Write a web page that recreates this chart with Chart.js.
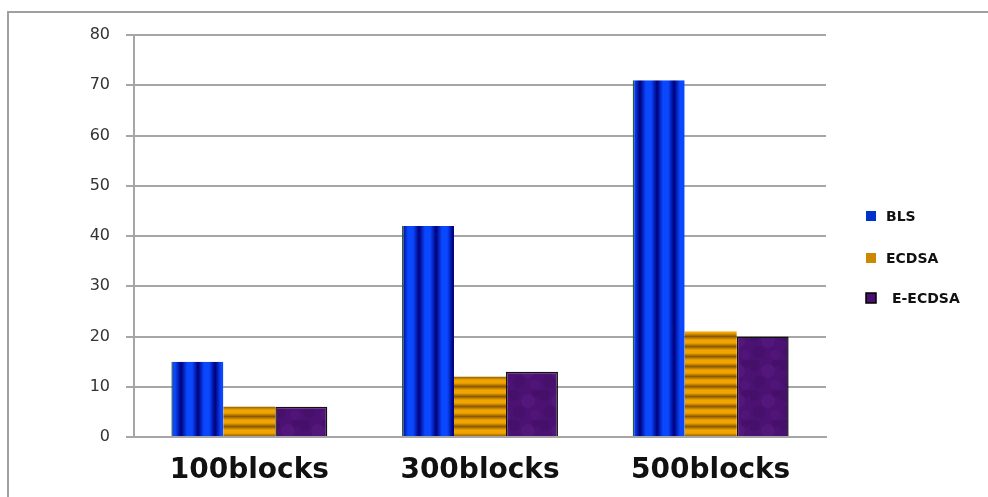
<!DOCTYPE html>
<html>
<head>
<meta charset="utf-8">
<script src="https://cdn.jsdelivr.net/npm/chart.js@4"></script>
<style>
    html, body { margin: 0; padding: 0; background: #fff; overflow: hidden; }
    canvas { position: absolute; left: 0; top: 0; }
</style>
</head>
<body>
<canvas id="grafico" width="988" height="497"></canvas>
<script>
// Datos del gráfico
const categorias = ['100blocks', '300blocks', '500blocks'];
const series = ['BLS', 'ECDSA', 'E-ECDSA'];
const valoresBLS = [15, 42, 71];
const valoresECDSA = [6, 12, 21];
const valoresEECDSA = [6, 13, 20];
const ticksY = [0, 10, 20, 30, 40, 50, 60, 70, 80];

// Patrones de relleno (rayas verticales, rayas horizontales, textura)
function patronRayas(periodo, vertical, claro, oscuro) {
    const c = document.createElement('canvas');
    c.width = vertical ? periodo : 1;
    c.height = vertical ? 1 : periodo;
    const g = c.getContext('2d');
    const grad = vertical ? g.createLinearGradient(0, 0, periodo, 0) : g.createLinearGradient(0, 0, 0, periodo);
    grad.addColorStop(0, claro);
    grad.addColorStop(0.3, claro);
    grad.addColorStop(0.65, oscuro);
    grad.addColorStop(1, claro);
    g.fillStyle = grad;
    g.fillRect(0, 0, c.width, c.height);
    return g.createPattern(c, 'repeat');
}

function patronTextura() {
    const c = document.createElement('canvas');
    c.width = 30; c.height = 30;
    const g = c.getContext('2d');
    g.fillStyle = '#4c1273';
    g.fillRect(0, 0, 30, 30);
    // manchas fijas y suaves para simular la textura
    const manchas = [[4, 5, 6, '#45106a'], [18, 11, 7, '#53177c'], [9, 22, 6, '#46106b'], [25, 25, 5, '#51157a'], [26, 3, 4, '#460f69']];
    manchas.forEach(([x, y, r, col]) => {
        g.fillStyle = col;
        g.beginPath();
        g.arc(x, y, r, 0, Math.PI * 2);
        g.fill();
    });
    return g.createPattern(c, 'repeat');
}

const rellenoBLS = patronRayas(17, true, '#0a48ff', '#00007c');
const rellenoECDSA = patronRayas(10, false, '#f2a400', '#8a5a00');
const rellenoEECDSA = patronTextura();
const coloresLeyenda = ['#0033cc', '#cc8800', '#4b0f6e'];

// Marco gris (solo lados izquierdo y superior) y fondo blanco
const marco = {
    id: 'marco',
    beforeDraw(chart) {
        const ctx = chart.ctx;
        ctx.save();
        ctx.fillStyle = '#fff';
        ctx.fillRect(0, 0, chart.width, chart.height);
        ctx.strokeStyle = '#a0a0a0';
        ctx.lineWidth = 2;
        ctx.beginPath();
        ctx.moveTo(8, chart.height);
        ctx.lineTo(8, 12);
        ctx.lineTo(chart.width, 12);
        ctx.stroke();
        ctx.restore();
    }
};

// Leyenda dibujada a mano a la derecha
const leyendaDerecha = {
    id: 'leyendaDerecha',
    afterDraw(chart) {
        const ctx = chart.ctx;
        const ys = [216, 258, 298];
        ctx.save();
        ctx.font = 'bold 14px "DejaVu Sans"';
        ctx.textBaseline = 'middle';
        series.forEach((nombre, i) => {
            ctx.fillStyle = coloresLeyenda[i];
            ctx.fillRect(866, ys[i] - 5, 10, 10);
            if (i === 2) {
                ctx.strokeStyle = '#000';
                ctx.lineWidth = 1.5;
                ctx.strokeRect(866, ys[i] - 5, 10, 10);
            }
            ctx.fillStyle = '#111';
            ctx.fillText(nombre, i === 2 ? 892 : 886, ys[i] + 1);
        });
        ctx.restore();
    }
};

const ctx = document.getElementById('grafico').getContext('2d');
new Chart(ctx, {
    type: 'bar',
    data: {
        labels: categorias,
        datasets: [
            { label: series[0], data: valoresBLS, backgroundColor: rellenoBLS, borderColor: '#2a5a4a', borderWidth: { left: 1.5, right: 0, top: 0, bottom: 0 } },
            { label: series[1], data: valoresECDSA, backgroundColor: rellenoECDSA, borderWidth: 0 },
            { label: series[2], data: valoresEECDSA, backgroundColor: rellenoEECDSA, borderColor: '#111', borderWidth: 1.5 }
        ]
    },
    options: {
        responsive: false,
        maintainAspectRatio: false,
        animation: false,
        categoryPercentage: 0.676,
        barPercentage: 1,
        layout: { padding: { top: 35, right: 162, bottom: 0, left: 0 } },
        plugins: {
            legend: { display: false },
            tooltip: { enabled: false }
        },
        scales: {
            x: {
                grid: { display: false, drawTicks: false },
                border: { display: true, color: '#a6a6a6', width: 2 },
                ticks: {
                    color: '#111',
                    padding: 17,
                    font: { family: '"DejaVu Sans"', size: 28, weight: 'bold' }
                },
                afterFit: axis => { axis.height = 60; }
            },
            y: {
                min: 0,
                max: 80,
                afterBuildTicks: axis => { axis.ticks = ticksY.map(v => ({ value: v })); },
                grid: { color: '#a6a6a6', lineWidth: 2, tickLength: 8 },
                border: { display: true, color: '#a6a6a6', width: 2 },
                ticks: {
                    color: '#333',
                    padding: 16,
                    font: { family: '"DejaVu Sans"', size: 16 }
                },
                afterFit: axis => { axis.width = 134; }
            }
        }
    },
    plugins: [marco, leyendaDerecha]
});
</script>
</body>
</html>
